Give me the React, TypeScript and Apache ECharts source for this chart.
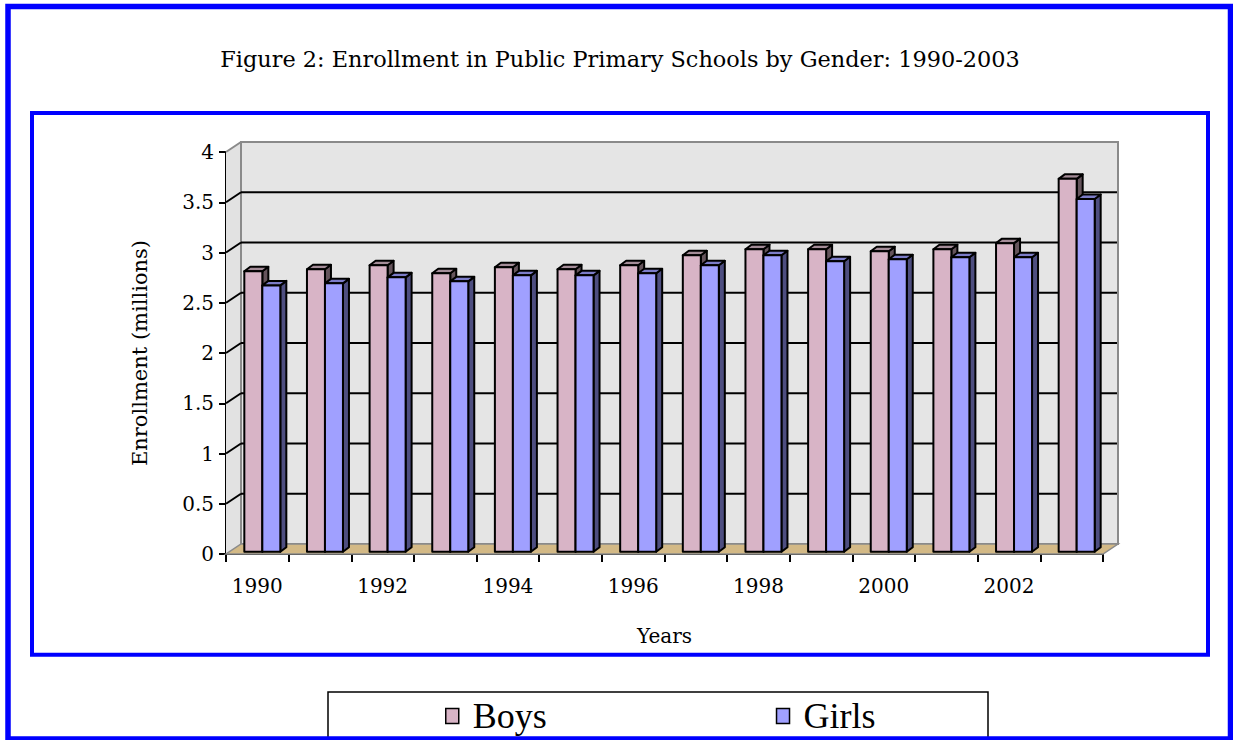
import React, { useEffect, useRef } from "react";
import * as echarts from "echarts";

const TITLE = "Figure 2: Enrollment in Public Primary Schools by Gender: 1990-2003";
const years = ["1990", "1991", "1992", "1993", "1994", "1995", "1996", "1997", "1998", "1999", "2000", "2001", "2002", "2003"];
const boys = [2.79, 2.81, 2.85, 2.77, 2.83, 2.81, 2.85, 2.95, 3.01, 3.01, 2.99, 3.01, 3.07, 3.71];
const girls = [2.65, 2.67, 2.73, 2.69, 2.75, 2.75, 2.77, 2.85, 2.95, 2.89, 2.91, 2.93, 2.93, 3.51];
const Y_MIN = 0;
const Y_MAX = 4;
const Y_INTERVAL = 0.5;

// 3D look constants
const WALL_DX = 15;
const WALL_DY = 10;
const SHIFT_X = 5;
const SHIFT_Y = 2.3;
const BAR_W = 18;
const BAR_DX = 6;
const BAR_DY = 4.5;

const BOYS_COLORS = { front: "#d8b4c6", top: "#a48c98", side: "#65545c" };
const GIRLS_COLORS = { front: "#a0a0ff", top: "#7c7cc8", side: "#4e4e80" };

const SERIF = "DejaVu Serif";

function wallRender(params: any, api: any) {
  if (params.dataIndex !== 0) return null;
  const cs = params.coordSys;
  const L = cs.x, T = cs.y, W = cs.width, H = cs.height;
  const B = T + H;
  const children: any[] = [];
  // side wall
  children.push({
    type: "polygon",
    shape: { points: [[L, B], [L, T], [L + WALL_DX, T - WALL_DY], [L + WALL_DX, B - WALL_DY]] },
    style: { fill: "#e2e2e2", stroke: null },
  });
  // back wall
  children.push({
    type: "rect",
    shape: { x: L + WALL_DX, y: T - WALL_DY, width: W, height: H },
    style: { fill: "#e5e5e5", stroke: "#8a8a8a", lineWidth: 2 },
  });
  // floor
  children.push({
    type: "polygon",
    shape: { points: [[L, B], [L + W, B], [L + W + WALL_DX, B - WALL_DY], [L + WALL_DX, B - WALL_DY]] },
    style: { fill: "#d3b986", stroke: "#8a8a8a", lineWidth: 1.5 },
  });
  // top-left edge of side wall
  children.push({
    type: "line",
    shape: { x1: L, y1: T, x2: L + WALL_DX, y2: T - WALL_DY },
    style: { stroke: "#8a8a8a", lineWidth: 2 },
  });
  // gridlines on side wall and back wall
  for (let v = Y_MIN + Y_INTERVAL; v < Y_MAX - 1e-9; v += Y_INTERVAL) {
    const y = api.coord([0, v])[1];
    children.push({
      type: "line",
      shape: { x1: L, y1: y, x2: L + WALL_DX, y2: y - WALL_DY },
      style: { stroke: "#000", lineWidth: 2 },
    });
    children.push({
      type: "line",
      shape: { x1: L + WALL_DX, y1: y - WALL_DY, x2: L + W + WALL_DX - 1, y2: y - WALL_DY },
      style: { stroke: "#000", lineWidth: 2 },
    });
  }
  return { type: "group", children };
}

function makeBarRender(isBoys: boolean) {
  const c = isBoys ? BOYS_COLORS : GIRLS_COLORS;
  return function (params: any, api: any) {
    const idx = api.value(0);
    const v = api.value(1);
    const topPt = api.coord([idx, v]);
    const basePt = api.coord([idx, 0]);
    const cx = topPt[0] + SHIFT_X;
    const x1 = isBoys ? cx - BAR_W : cx;
    const x2 = x1 + BAR_W;
    const yt = topPt[1] - SHIFT_Y;
    const yb = basePt[1] - SHIFT_Y;
    const sty = (fill: string) => ({ fill, stroke: "#000", lineWidth: 2, lineJoin: "round" });
    return {
      type: "group",
      children: [
        {
          type: "polygon",
          shape: { points: [[x2, yt], [x2 + BAR_DX, yt - BAR_DY], [x2 + BAR_DX, yb - BAR_DY], [x2, yb]] },
          style: sty(c.side),
        },
        {
          type: "polygon",
          shape: { points: [[x1, yt], [x2, yt], [x2 + BAR_DX, yt - BAR_DY], [x1 + BAR_DX, yt - BAR_DY]] },
          style: sty(c.top),
        },
        {
          type: "rect",
          shape: { x: x1, y: yt, width: BAR_W, height: yb - yt },
          style: sty(c.front),
        },
      ],
    };
  };
}

export default function App() {
  const ref = useRef<HTMLDivElement>(null);
  useEffect(() => {
    if (!ref.current) return;
    const chart = echarts.init(ref.current, null, { renderer: "svg" });
    const axisText = { fontFamily: SERIF, fontSize: 20, color: "#000" };
    chart.setOption({
      animation: false,
      backgroundColor: "#fff",
      title: {
        text: TITLE,
        left: 620,
        top: 48,
        textAlign: "center",
        padding: 0,
        textStyle: { fontFamily: SERIF, fontSize: 22.4, fontWeight: "normal", color: "#000" },
      },
      grid: { left: 226, top: 152, width: 877, height: 402 },
      xAxis: {
        type: "category",
        data: years,
        boundaryGap: true,
        axisLine: { show: true, lineStyle: { color: "#000", width: 2 } },
        axisTick: { show: true, interval: 0, length: 8, lineStyle: { color: "#000", width: 2 } },
        axisLabel: { interval: 1, margin: 22, ...axisText },
        splitLine: { show: false },
        name: "Years",
        nameLocation: "middle",
        nameGap: 72,
        nameTextStyle: { fontFamily: SERIF, fontSize: 20, color: "#000" },
      },
      yAxis: {
        type: "value",
        min: Y_MIN,
        max: Y_MAX,
        interval: Y_INTERVAL,
        axisLine: { show: true, lineStyle: { color: "#000", width: 2 } },
        axisTick: { show: true, length: 7, lineStyle: { color: "#000", width: 2 } },
        axisLabel: { margin: 12, ...axisText },
        splitLine: { show: false },
        name: "Enrollment (millions)",
        nameLocation: "middle",
        nameGap: 76,
        nameRotate: 90,
        nameTextStyle: { fontFamily: SERIF, fontSize: 21, color: "#000" },
      },
      legend: {
        data: [
          { name: "Boys", icon: "rect" },
          { name: "Girls", icon: "rect" },
        ],
        left: 445,
        top: 698,
        padding: 0,
        itemWidth: 13,
        itemHeight: 15,
        itemGap: 229,
        itemStyle: { borderColor: "#000", borderWidth: 1.5 },
        textStyle: { fontFamily: "Liberation Serif", fontSize: 36, color: "#000", padding: [0, 0, 0, 9] },
        selectedMode: false,
      },
      graphic: [
        {
          type: "rect",
          z: 0,
          shape: { x: 328, y: 692, width: 660, height: 80 },
          style: { fill: "#fff", stroke: "#000", lineWidth: 1.5 },
        },
        {
          type: "rect",
          z: 100,
          shape: { x: 32, y: 113, width: 1176, height: 541.7 },
          style: { fill: null, stroke: "#0000ff", lineWidth: 4 },
        },
        {
          type: "rect",
          z: 100,
          shape: { x: 8, y: 6.5, width: 1222.5, height: 732.5 },
          style: { fill: null, stroke: "#0000ff", lineWidth: 5.5 },
        },
      ],
      series: [
        {
          type: "custom",
          name: "wall",
          z: 1,
          silent: true,
          clip: false,
          renderItem: wallRender,
          data: [[0, 0]],
          encode: { x: 0, y: 1 },
        },
        {
          type: "custom",
          name: "Boys",
          z: 2,
          clip: false,
          itemStyle: { color: BOYS_COLORS.front },
          renderItem: makeBarRender(true),
          data: boys.map((v, i) => [i, v]),
          encode: { x: 0, y: 1 },
        },
        {
          type: "custom",
          name: "Girls",
          z: 3,
          clip: false,
          itemStyle: { color: GIRLS_COLORS.front },
          renderItem: makeBarRender(false),
          data: girls.map((v, i) => [i, v]),
          encode: { x: 0, y: 1 },
        },
      ],
    });
    return () => chart.dispose();
  }, []);
  return (
    <div
      ref={ref}
      style={{ position: "absolute", left: 0, top: 0, width: 1233, height: 740 }}
    />
  );
}
